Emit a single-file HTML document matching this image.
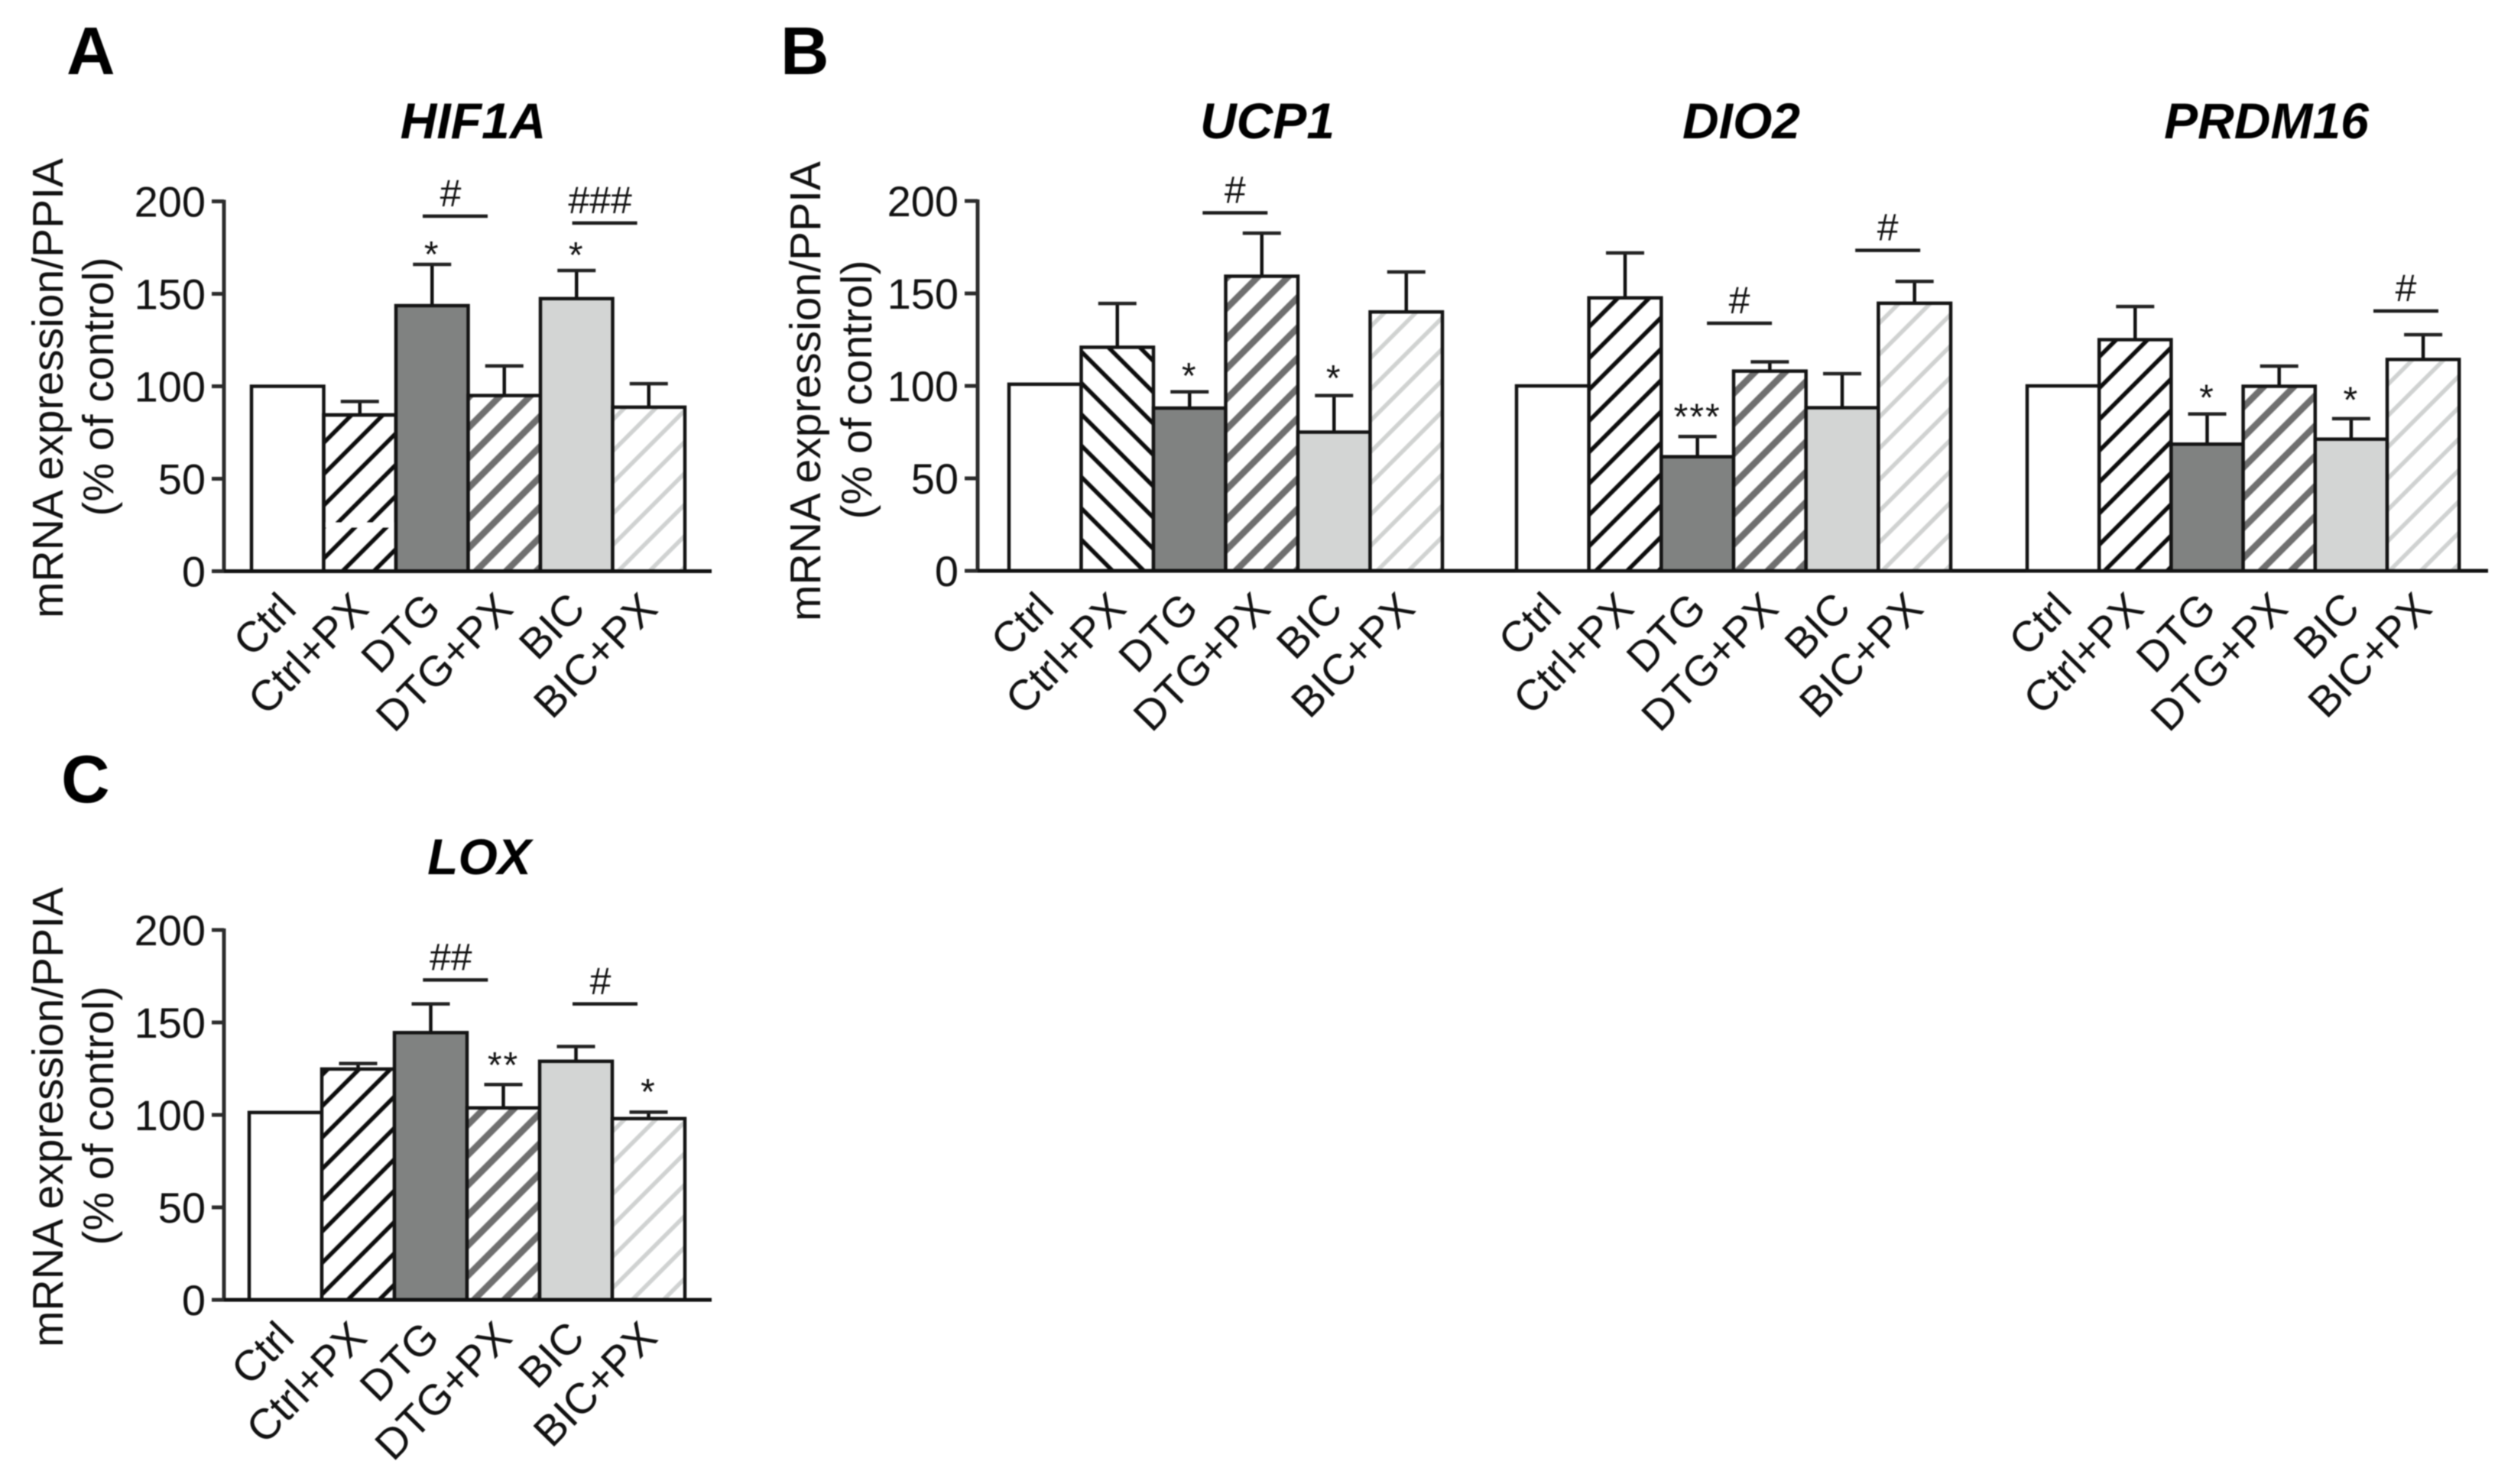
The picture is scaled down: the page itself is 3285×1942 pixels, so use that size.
<!DOCTYPE html>
<html lang="en">
<head>
<meta charset="utf-8">
<title>mRNA expression bar charts</title>
<style>
html,body{margin:0;padding:0;background:#fff;}
svg{display:block;filter:blur(0.7px);}
text{font-family:"Liberation Sans",Arial,sans-serif;fill:#111;}
</style>
</head>
<body>
<svg id="figure" xmlns="http://www.w3.org/2000/svg" width="3285" height="1942" viewBox="0 0 3285 1942">
  <rect width="3285" height="1942" fill="#ffffff"/>
  <defs id="hatch-defs"></defs>
  <text x="87" y="97" font-size="88" font-weight="700" style="fill:#000">A</text>
  <text x="1021" y="97" font-size="88" font-weight="700" style="fill:#000">B</text>
  <text x="80" y="1050" font-size="88" font-weight="700" style="fill:#000">C</text>
</svg>
<script>
// ---- chart data ----
const categories = ['Ctrl', 'Ctrl+PX', 'DTG', 'DTG+PX', 'BIC', 'BIC+PX'];
const yTicks = [0, 50, 100, 150, 200];

const hif1aValues = [100, 84.5, 143.6, 95, 147.4, 88.7];
const hif1aErrors = [0, 7.3, 22.3, 16, 15.2, 12.7];
const hif1aStars = [{bar: 2, level: 173.4, label: '*'}, {bar: 4, level: 173, label: '*'}];
const hif1aSig = [{center: 2.82, level: 192, label: '#'}, {center: 4.89, level: 188.3, label: '###'}];

const ucp1Values = [100.9, 120.9, 88, 159.3, 75, 140];
const ucp1Errors = [0, 23.7, 8.8, 23.3, 19.8, 21.6];
const ucp1Stars = [{bar: 2, level: 107.4, label: '*'}, {bar: 4, level: 106.2, label: '*'}];
const ucp1Sig = [{center: 3.13, level: 193.6, label: '#'}];

const dio2Values = [100, 147.6, 61.7, 108, 88.2, 144.7];
const dio2Errors = [0, 24.3, 10.9, 5, 18.4, 11.8];
const dio2Stars = [{bar: 2, level: 85.3, label: '***'}];
const dio2Sig = [{center: 3.08, level: 133.9, label: '#'}, {center: 5.13, level: 173.3, label: '#'}];

const prdm16Values = [100, 125, 68.5, 99.8, 71.2, 114.3];
const prdm16Errors = [0, 17.9, 16.3, 10.9, 11.1, 13.4];
const prdm16Stars = [{bar: 2, level: 95.7, label: '*'}, {bar: 4, level: 94.5, label: '*'}];
const prdm16Sig = [{center: 5.26, level: 140.5, label: '#'}];

const loxValues = [101.3, 124.8, 144.5, 103.8, 129, 98];
const loxErrors = [0, 3, 15.5, 12.6, 8, 3.5];
const loxStars = [{bar: 3, level: 128.9, label: '**'}, {bar: 5, level: 114.5, label: '*'}];
const loxSig = [{center: 2.84, level: 173, label: '##'}, {center: 4.9, level: 160, label: '#'}];

// ---- styling per category ----
const barStyles = [
  {fill: '#ffffff'},
  {hatch: '#0c0c0c', stripe: 5.5, spacing: 41},
  {fill: '#808281'},
  {hatch: '#6f6f6f', stripe: 8.5, spacing: 39.5},
  {fill: '#d3d5d4'},
  {hatch: '#d0d2d1', stripe: 5.5, spacing: 41}
];

// ---- layout ----
const panels = [
  {key: 'hif1a', title: 'HIF1A', titleX: 619, titleY: 181, bottom: 747.5, top: 263.5, barLeft: 329, barWidth: 94.5,
   values: hif1aValues, errors: hif1aErrors, stars: hif1aStars, sig: hif1aSig, sigLabelShift: -6,
   hatchOffsets: {1: 37, 3: 10, 5: 7}, seam: {bar: 1, level: 25, lowerOffset: 24.5},
   axisX: 293, tickLeft: 277, axisEnd: 931, yTitleX: 82, yTitle2X: 148, yTitleY: 506, backslash: false},
  {key: 'ucp1', title: 'UCP1', titleX: 1658, titleY: 181, bottom: 747, top: 263, barLeft: 1320, barWidth: 94.5,
   values: ucp1Values, errors: ucp1Errors, stars: ucp1Stars, sig: ucp1Sig, sigLabelShift: 0,
   hatchOffsets: {1: 41, 3: 13, 5: 9},
   axisX: 1279, tickLeft: 1262, axisEnd: 3255, yTitleX: 1073, yTitle2X: 1140, yTitleY: 510, backslash: true},
  {key: 'dio2', title: 'DIO2', titleX: 2278, titleY: 181, bottom: 747, top: 263, barLeft: 1984, barWidth: 94.67,
   values: dio2Values, errors: dio2Errors, stars: dio2Stars, sig: dio2Sig, sigLabelShift: 0,
   hatchOffsets: {1: 9, 3: 5, 5: 5}, backslash: false},
  {key: 'prdm16', title: 'PRDM16', titleX: 2965, titleY: 181, bottom: 747, top: 263, barLeft: 2652, barWidth: 94.2,
   values: prdm16Values, errors: prdm16Errors, stars: prdm16Stars, sig: prdm16Sig, sigLabelShift: 0,
   hatchOffsets: {1: 7, 3: 23, 5: 3}, backslash: false},
  {key: 'lox', title: 'LOX', titleX: 627, titleY: 1144, bottom: 1701, top: 1217, barLeft: 326, barWidth: 95,
   values: loxValues, errors: loxErrors, stars: loxStars, sig: loxSig, sigLabelShift: -6,
   hatchOffsets: {1: 34, 3: 9, 5: 26},
   axisX: 293, tickLeft: 277, axisEnd: 931, yTitleX: 82, yTitle2X: 148, yTitleY: 1460, backslash: false}
];

const NS = 'http://www.w3.org/2000/svg';
const figure = document.getElementById('figure');
const defs = document.getElementById('hatch-defs');
const AXIS_MAX = 200;

function make(parent, tag, attrs, content) {
  const el = document.createElementNS(NS, tag);
  for (const k in attrs) el.setAttribute(k, attrs[k]);
  if (content !== undefined) el.textContent = content;
  parent.appendChild(el);
  return el;
}
function yScale(p, v) { return p.bottom - (v / AXIS_MAX) * (p.bottom - p.top); }
function xLeft(p, i) { return p.barLeft + i * p.barWidth; }
function xCenter(p, i) { return xLeft(p, i) + p.barWidth / 2; }

function hatchFill(p, i, style, offset, suffix) {
  const id = 'hatch-' + p.key + '-' + i + suffix;
  const side = style.spacing * Math.SQRT1_2;
  const angle = (p.backslash && i === 1) ? -45 : 45;
  const pattern = make(defs, 'pattern', {
    id: id, patternUnits: 'userSpaceOnUse', width: side, height: side,
    patternTransform: 'translate(' + (xLeft(p, i) + offset) + ' ' + p.bottom + ') rotate(' + angle + ')'
  });
  make(pattern, 'rect', {x: 0, y: 0, width: side, height: side, fill: '#ffffff'});
  make(pattern, 'rect', {x: 0, y: 0, width: style.stripe / 2, height: side, fill: style.hatch});
  make(pattern, 'rect', {x: side - style.stripe / 2, y: 0, width: style.stripe / 2, height: side, fill: style.hatch});
  return 'url(#' + id + ')';
}

function drawPanel(p) {
  const g = make(figure, 'g', {});
  
  

  const title = make(g, 'text', {x: p.titleX, y: p.titleY, 'text-anchor': 'middle', 'font-size': 66, 'font-weight': 700, 'font-style': 'italic', style: 'fill:#000'}, p.title);
  
  

  // error bars sit behind the bars
  p.values.forEach(function (v, i) {
    if (!p.errors[i]) return;
    const cx = xCenter(p, i);
    const yTop = yScale(p, v + p.errors[i]);
    const stem = make(g, 'line', {x1: cx, x2: cx, y1: yScale(p, v), y2: yTop, stroke: '#111111', 'stroke-width': 4.5});
    
    
    const cap = make(g, 'line', {x1: cx - 25, x2: cx + 25, y1: yTop, y2: yTop, stroke: '#222222', 'stroke-width': 4.5});
    
    
  });

  // bars
  p.values.forEach(function (v, i) {
    const style = barStyles[i];
    const yTop = yScale(p, v);
    const x = xLeft(p, i);
    const h = p.bottom - yTop;
    const fill = style.hatch ? hatchFill(p, i, style, p.hatchOffsets[i], '') : style.fill;
    const bar = make(g, 'rect', {x: x, y: yTop, width: p.barWidth, height: h, fill: fill, stroke: '#141414', 'stroke-width': 4.5});
    
    
    if (p.seam && p.seam.bar === i) {
      // the hatch on this bar is misregistered below a seam in the source figure
      const seamY = yScale(p, p.seam.level);
      const lower = make(g, 'rect', {x: x, y: seamY, width: p.barWidth, height: p.bottom - seamY, fill: hatchFill(p, i, style, p.seam.lowerOffset, '-lower')});
      
      
      const gap = make(g, 'rect', {x: x, y: seamY - 3.5, width: p.barWidth, height: 7, fill: '#ffffff'});
      
      
      const outline = make(g, 'rect', {x: x, y: yTop, width: p.barWidth, height: h, fill: 'none', stroke: '#141414', 'stroke-width': 4.5});
      
      
    }
  });

  // category labels
  categories.forEach(function (c, i) {
    const lx = xCenter(p, i) + 14;
    const ly = p.bottom + 52;
    const label = make(g, 'text', {x: lx, y: ly, 'text-anchor': 'end', 'font-size': 56, transform: 'rotate(-45.5 ' + lx + ' ' + ly + ')'}, c);
    
    
  });

  // significance stars
  p.stars.forEach(function (s) {
    const star = make(g, 'text', {x: xCenter(p, s.bar), y: yScale(p, s.level) + 21, 'text-anchor': 'middle', 'font-size': 48, 'letter-spacing': 2}, s.label);
    
    
  });

  // comparison lines with # labels
  p.sig.forEach(function (s) {
    const cx = p.barLeft + s.center * p.barWidth;
    const ly = yScale(p, s.level);
    const line = make(g, 'line', {x1: cx - 42.5, x2: cx + 42.5, y1: ly, y2: ly, stroke: '#1c1c1c', 'stroke-width': 4.5});
    
    
    const mark = make(g, 'text', {x: cx + p.sigLabelShift, y: ly - 13, 'text-anchor': 'middle', 'font-size': 50}, s.label);
    
    
  });

  // axes
  if (p.axisX !== undefined) {
    const yAxis = make(g, 'line', {x1: p.axisX, x2: p.axisX, y1: p.top - 2, y2: p.bottom + 2, stroke: '#2c2c2c', 'stroke-width': 5});
    
    
    const xAxis = make(g, 'line', {x1: p.tickLeft, x2: p.axisEnd, y1: p.bottom, y2: p.bottom, stroke: '#111111', 'stroke-width': 5});
    
    
    yTicks.forEach(function (t) {
      const ty = yScale(p, t);
      const tick = make(g, 'line', {x1: p.tickLeft, x2: p.axisX, y1: ty, y2: ty, stroke: '#2c2c2c', 'stroke-width': 5});
      
      
      const tl = make(g, 'text', {x: p.tickLeft - 8, y: ty + 20, 'text-anchor': 'end', 'font-size': 56}, String(t));
      
      
    });
    const yt = make(g, 'text', {x: p.yTitleX, y: p.yTitleY + 2, 'text-anchor': 'middle', 'font-size': 57, transform: 'rotate(-90 ' + p.yTitleX + ' ' + (p.yTitleY + 2) + ')'}, 'mRNA expression/PPIA');
    
    
    const yt2 = make(g, 'text', {x: p.yTitle2X, y: p.yTitleY, 'text-anchor': 'middle', 'font-size': 57, transform: 'rotate(-90 ' + p.yTitle2X + ' ' + p.yTitleY + ')'}, '(% of control)');
    
    
  }
}

panels.forEach(drawPanel);
</script>
</body>
</html>
